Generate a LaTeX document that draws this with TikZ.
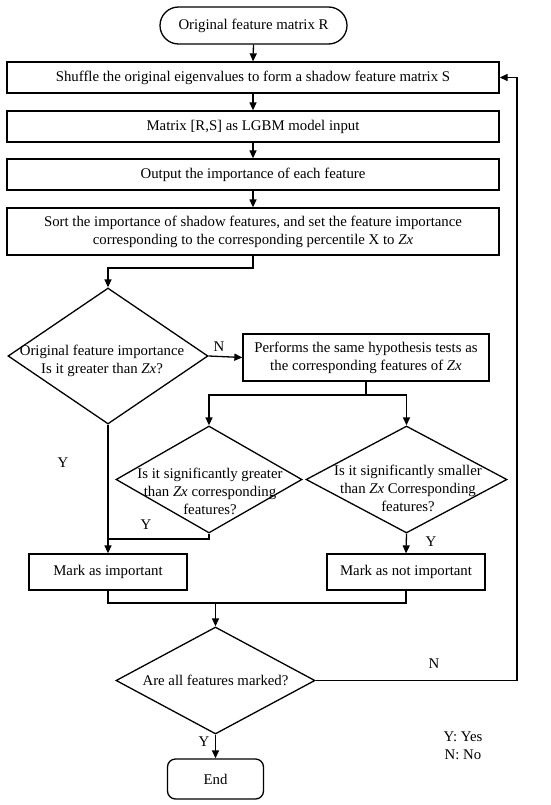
\documentclass[tikz,border=0pt]{standalone}
\usepackage{fontspec}
\setmainfont{Liberation Serif}
\usetikzlibrary{shapes.geometric,shapes.misc,arrows.meta}
\begin{document}
\begin{tikzpicture}[x=1pt,y=-1pt,
  font=\fontsize{14.8}{18}\selectfont,
  line width=1.3pt,
  arr/.style={-{Triangle[length=8pt,width=7pt]}},
  pbox/.style 2 args={draw, rectangle, minimum width=#1, minimum height=#2, inner sep=0pt, align=center},
  dia/.style 2 args={draw, diamond, minimum width=#1, minimum height=#2, inner sep=0pt},
  txt/.style={inner sep=0pt, align=center}]
\useasboundingbox (0,0) rectangle (550,805);
\fill[white] (0,0) rectangle (550,805);

\node[draw, rounded rectangle, minimum width=187pt, minimum height=37pt, inner sep=0pt] (start) at (253.5,25.5) {Original feature matrix R};
\node[pbox={492pt}{31pt}] (b1) at (253,77.5) {Shuffle the original eigenvalues to form a shadow feature matrix S};
\node[pbox={492pt}{31pt}] (b2) at (253,126.5) {Matrix [R,S] as LGBM model input};
\node[pbox={492pt}{31pt}] (b3) at (253,174.5) {Output the importance of each feature};
\node[pbox={492pt}{47pt}] (b4) at (253,231.5) {Sort the importance of shadow features, and set the feature importance\\corresponding to the corresponding percentile X to \textit{Zx}};

\node[dia={200pt}{136pt}] (d1) at (108,356) {};
\node[txt] (d1t) at (102,361) {Original feature importance\\Is it greater than \textit{Zx}?};
\node[pbox={246pt}{47pt}] (b5) at (366,357.5) {Performs the same hypothesis tests as\\the corresponding features of \textit{Zx}};

\node[dia={186pt}{107pt}] (d2) at (209,479.5) {};
\node[txt] (d2t) at (210,491) {Is it significantly greater\\than \textit{Zx} corresponding\\features?};
\node[dia={201pt}{107pt}] (d3) at (406.5,479.5) {};
\node[txt] (d3t) at (408,488) {Is it significantly smaller\\than \textit{Zx} Corresponding\\features?};

\node[pbox={158pt}{36pt}] (b6) at (108,572) {Mark as important};
\node[pbox={158pt}{36pt}] (b7) at (406,572) {Mark as not important};

\node[dia={199pt}{107pt}] (d4) at (215.5,680.5) {};
\node[txt] (d4t) at (215.5,680.5) {Are all features marked?};

\node[draw, rectangle, rounded corners=8pt, minimum width=96pt, minimum height=40pt, inner sep=0pt] (end) at (215.5,779) {End};

\node[txt] (legend) at (463,746) {Y: Yes\\N: No};

% connectors
\draw[arr] (start.south) -- (b1.north);
\draw[arr] (b1.south) -- (b2.north);
\draw[arr] (b2.south) -- (b3.north);
\draw[arr] (b3.south) -- (b4.north);
\coordinate (c1) at (253,268);
\draw[arr] (b4.south) -- (c1) -| (d1.north);

\draw[arr] (d1.east) -- (b5.west);
\node[txt] (nl1) at (219,347) {N};

\coordinate (split) at (366,395);
\draw (b5.south) -- (split);
\draw[arr] (split) -| (d2.north);
\draw[arr] (split) -| (d3.north);

\draw[arr] (d1.south) -- (b6.north);
\node[txt] (yl1) at (63,463) {Y};
\coordinate (j1) at (108,539);
\draw (d2.south) |- (j1);
\node[txt] (yl2) at (146,525) {Y};

\draw[arr] (d3.south) -- (b7.north);
\node[txt] (yl3) at (431,542) {Y};

\coordinate (m) at (215.5,603);
\draw (b6.south) |- (m) -| (b7.south);
\draw[arr] (m) -- (d4.north);

\coordinate (fb) at (517,680.5);
\draw[arr] (d4.east) -- (fb) |- (b1.east);
\node[txt] (nl2) at (434,664) {N};

\draw[arr] (d4.south) -- (end.north);
\node[txt] (yl4) at (204,742) {Y};
\end{tikzpicture}
\end{document}
